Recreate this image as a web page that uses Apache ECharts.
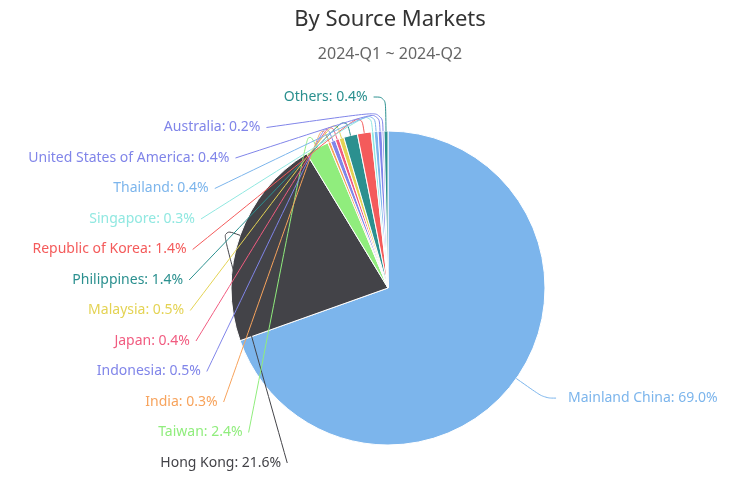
<!DOCTYPE html>
<html>
<head>
<meta charset="utf-8">
<script src="https://cdn.jsdelivr.net/npm/echarts@6/dist/echarts.min.js"></script>
<style>html,body{margin:0;padding:0;background:#fff}#c{width:746px;height:495px}</style>
</head>
<body>
<div id="c"></div>
<script>
const categories = ["Mainland China","Hong Kong","Taiwan","India","Indonesia","Japan","Malaysia","Philippines","Republic of Korea","Singapore","Thailand","United States of America","Australia","Others"];
const shares = [69.0, 21.6, 2.4, 0.3, 0.5, 0.4, 0.5, 1.4, 1.4, 0.3, 0.4, 0.4, 0.2, 0.4];
const colors = ["#7cb5ec","#434348","#90ed7d","#f7a35c","#8085e9","#f15c80","#e4d354","#2b908f","#f45b5b","#91e8e1","#7cb5ec","#8085e9","#8085e9","#2b908f"];
const titleText = "By Source Markets";
const subtitleText = "2024-Q1 ~ 2024-Q2";

// layout constants
const CX = 388, CY = 288, R = 157;
const LEN = 34, LEN2 = 12, LINE_MID = 20, LABEL_R = 205, ROW = 30.5, GAP_L = 6, GAP_R = 12;

// label placement derived from the data (angles of each slice)
const total = shares.reduce((a, b) => a + b, 0);
let acc = 0;
const info = shares.map((v, i) => {
  const a0 = acc / total * 2 * Math.PI; acc += v;
  const a1 = acc / total * 2 * Math.PI;
  const m = (a0 + a1) / 2, s = Math.sin(m), c = Math.cos(m);
  return { i, s, c,
    edge: [CX + R * s, CY - R * c],
    nat: [CX + (R + LEN) * s, CY - (R + LEN) * c] };
});
const leftSide = info.filter(d => d.s < 0).sort((a, b) => a.nat[1] - b.nat[1]);
let prevY = -Infinity;
leftSide.forEach(d => { d.y = Math.max(d.nat[1], prevY + ROW); prevY = d.y; });
leftSide.forEach(d => {
  const dy = Math.abs(d.y - CY);
  d.align = 'right';
  if (d.y === d.nat[1] || dy >= R + LEN) {
    const x3 = d.nat[0] - LEN2;
    d.tx = x3 - GAP_L;
    d.pts = [d.edge, d.nat, [x3, d.y]];
  } else {
    d.tx = CX - Math.sqrt(LABEL_R * LABEL_R - dy * dy);
    const mid = [CX + (R + LINE_MID) * d.s, CY - (R + LINE_MID) * d.c];
    d.pts = [d.edge, mid, [d.tx + GAP_L, d.y]];
  }
});
info.filter(d => d.s >= 0).forEach(d => {
  const x3 = d.nat[0] + LEN2;
  d.y = d.nat[1];
  d.tx = x3 + GAP_R;
  d.align = 'left';
  d.pts = [d.edge, d.nat, [x3, d.y]];
});

const chart = echarts.init(document.getElementById('c'));
const FONT = '"Noto Sans", sans-serif';
const pieBase = {
  type: 'pie',
  center: [CX, CY],
  radius: R,
  startAngle: 90,
  clockwise: true,
  avoidLabelOverlap: false
};
chart.setOption({
  animation: false,
  title: {
    text: titleText,
    subtext: subtitleText,
    left: 385,
    textAlign: 'center',
    top: 4,
    itemGap: 15,
    textStyle: { fontSize: 22, fontWeight: 'normal', color: '#333', fontFamily: FONT },
    subtextStyle: { fontSize: 16, color: '#666', fontFamily: FONT }
  },
  series: [
    Object.assign({}, pieBase, {
      z: 2,
      itemStyle: { borderColor: '#fff', borderWidth: 1 },
      label: { show: false },
      labelLine: { show: false },
      data: categories.map((n, i) => ({ name: n, value: shares[i], itemStyle: { color: colors[i] } }))
    }),
    Object.assign({}, pieBase, {
      z: 3,
      silent: true,
      itemStyle: { color: 'rgba(0,0,0,0)', borderWidth: 0 },
      label: {
        show: true,
        formatter: p => p.name + ': ' + p.value.toFixed(1) + '%',
        fontSize: 14,
        fontFamily: FONT,
        overflow: 'none'
      },
      labelLine: { show: true, length: LEN, length2: LEN2, smooth: 0.4, lineStyle: { width: 1, opacity: 1 } },
      labelLayout: function (params) {
        const d = info[params.dataIndex];
        return {
          x: d.tx, y: d.y, align: d.align, verticalAlign: 'middle',
          labelLinePoints: d.pts.map(p => [p[0], p[1]])
        };
      },
      data: categories.map((n, i) => ({
        name: n, value: shares[i],
        label: { color: colors[i] },
        labelLine: { lineStyle: { color: colors[i], opacity: 1 } }
      }))
    })
  ]
});
</script>
</body>
</html>
